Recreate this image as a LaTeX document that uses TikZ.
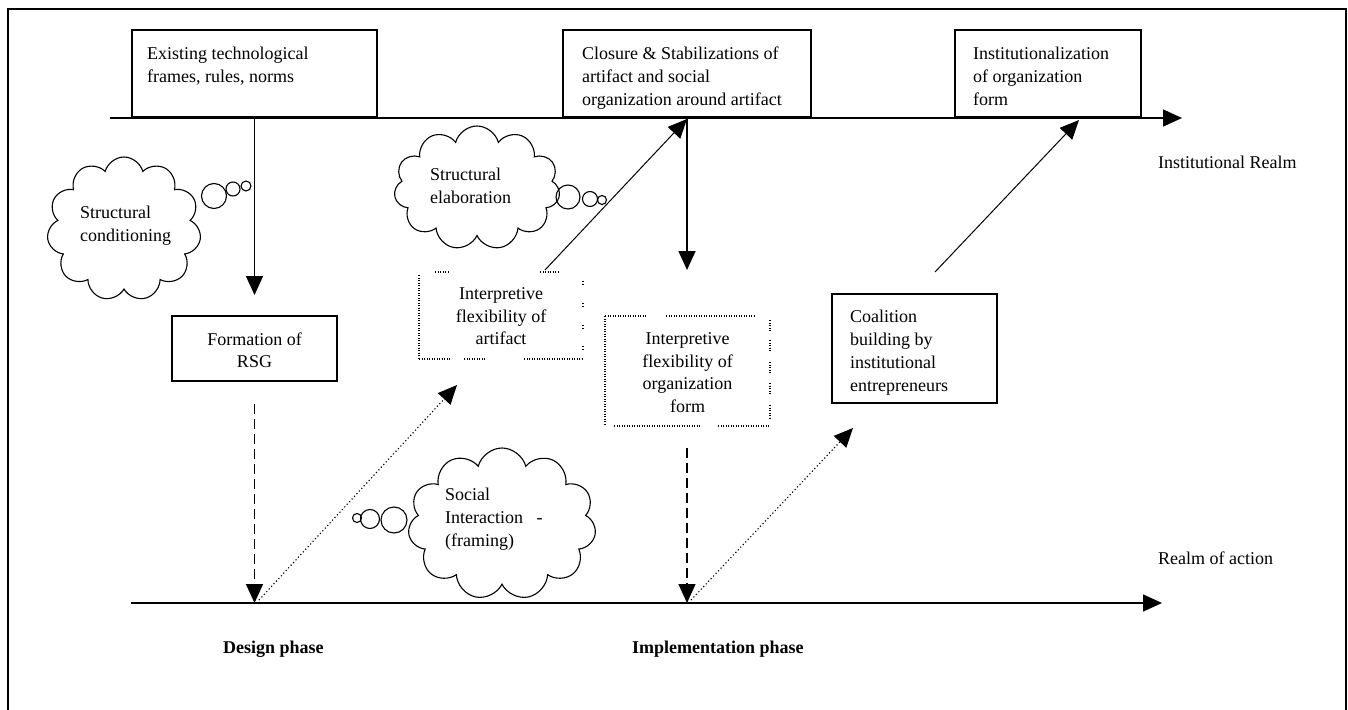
\documentclass[tikz,border=0pt]{standalone}
\usepackage{fontspec}
\setmainfont{Liberation Serif}
\usetikzlibrary{arrows.meta,shapes.symbols}
\begin{document}
\begin{tikzpicture}[x=1pt,y=-1pt,
  box/.style={draw, line width=1.4pt, inner sep=0},
  ghost/.style={inner sep=0},
  txt/.style={inner sep=0, font=\fontsize{18}{23}\selectfont, align=left, anchor=north west},
  ctxt/.style={inner sep=0, font=\fontsize{18}{22.5}\selectfont, align=center, anchor=north},
  tip/.style={-{Triangle[length=19pt,width=17pt]}},
  axis/.style={line width=1.5pt},
  conn/.style={line width=1.5pt},
  thin/.style={line width=1pt},
  dashline/.style={line width=1.3pt, dash pattern=on 10pt off 5pt},
  dotline/.style={line width=1.1pt, dash pattern=on 1.2pt off 2.4pt},
  dotborder/.style={line width=1.1pt, dash pattern=on 1pt off 1.5pt},
  cloudshape/.style={cloud, draw, cloud puffs=11, cloud ignores aspect, line width=1.1pt, inner sep=0},
  bubble/.style={circle, draw, line width=1.1pt, inner sep=0},
]
\useasboundingbox (0,0) rectangle (1348,709);
% frame
\draw[line width=1.3pt] (8,712) -- (8,9) -- (1346,9) -- (1346,712);

% axes
\coordinate (topL) at (110,118);
\coordinate (topR) at (1182,118);
\coordinate (botL) at (131,603);
\coordinate (botR) at (1162,603);

% boxes
\node[box, minimum width=245pt, minimum height=87pt] (b1) at (254.5,73.5) {};
\node[box, minimum width=248pt, minimum height=87pt] (b2) at (687,73.5) {};
\node[box, minimum width=186pt, minimum height=87pt] (b3) at (1048,73.5) {};
\node[box, minimum width=165pt, minimum height=65pt] (rsg) at (254.5,348.5) {};
\node[box, minimum width=165pt, minimum height=109pt] (coal) at (914.5,348.5) {};
\node[ghost, minimum width=164pt, minimum height=87pt] (if1) at (501,315.5) {};
\node[ghost, minimum width=165pt, minimum height=110pt] (if2) at (687.5,371) {};

\draw[axis,tip] (topL) -- (topR);
\draw[axis,tip] (botL) -- (botR);

% texts in boxes
\node[txt] (t1) at (147,46.5) {Existing technological\\frames, rules, norms};
\node[txt] (t2) at (582,46.5) {Closure \& Stabilizations of\\artifact and social\\organization around artifact};
\node[txt] (t3) at (973,46.5) {Institutionalization\\of organization\\form};
\node[ctxt] (trsg) at (254.5,332.5) {Formation of\\RSG};
\node[ctxt] (tif1) at (501,287.5) {Interpretive\\flexibility of\\artifact};
\node[ctxt] (tif2) at (687.5,332.5) {Interpretive\\flexibility of\\organization\\form};
\node[txt] (tcoal) at (850,309.5) {Coalition\\building by\\institutional\\entrepreneurs};

% dotted borders of the interpretive flexibility boxes
\draw[dotborder] (435,272) -- (450,272) (540,272) -- (558,272);
\draw[dotborder] (419,275) -- (419,359);
\draw[dotborder] (583,281) -- (583,285) (583,303) -- (583,307) (583,325) -- (583,329) (583,346) -- (583,350);
\draw[dotborder] (419,359) -- (450,359) (464,359) -- (485,359) (524,359) -- (583,359);
\draw[dotborder] (605,316) -- (646,316) (666,316) -- (756,316);
\draw[dotborder] (605,316) -- (605,426);
\draw[dotborder] (770,320) -- (770,332) (770,340) -- (770,352) (770,362) -- (770,373) (770,383) -- (770,395) (770,405) -- (770,420);
\draw[dotborder] (614,426) -- (700,426) (718,426) -- (770,426);

% clouds
\node[cloudshape, minimum width=154pt, minimum height=144pt] (c1) at (124,229) {};
\node[cloudshape, minimum width=166pt, minimum height=124pt] (c2) at (477,188) {};
\node[cloudshape, minimum width=188pt, minimum height=152pt] (c3) at (502,524) {};
\node[bubble, minimum size=25pt] (c1a) at (214,196) {};
\node[bubble, minimum size=14pt] (c1b) at (233,189) {};
\node[bubble, minimum size=10pt] (c1c) at (246,186) {};
\node[bubble, minimum size=24pt] (c2a) at (568,197) {};
\node[bubble, minimum size=15pt] (c2b) at (590,199) {};
\node[bubble, minimum size=9pt] (c2c) at (602,200) {};
\node[bubble, minimum size=26pt] (c3a) at (394,520) {};
\node[bubble, minimum size=19pt] (c3b) at (370,519) {};
\node[bubble, minimum size=9pt] (c3c) at (357,518) {};
\node[txt] (tc1) at (80,205.5) {Structural\\conditioning};
\node[txt] (tc2) at (430,167.5) {Structural\\elaboration};
\node[txt] (tc3) at (445,487.5) {Social\\Interaction\ \ \ -\\(framing)};

% labels
\node[txt] (linst) at (1158,155.5) {Institutional Realm};
\node[txt] (lact) at (1158,551.5) {Realm of action};
\node[txt, font=\fontsize{18}{23}\selectfont\bfseries] (ldes) at (223,640.5) {Design phase};
\node[txt, font=\fontsize{18}{23}\selectfont\bfseries] (limp) at (632,640.5) {Implementation phase};

% connectors
\coordinate (a1end) at (254.5,295);
\coordinate (rsgout) at (254.5,404);
\coordinate (d1) at (254.5,603);
\coordinate (d1s) at (259,600);
\coordinate (if1in) at (457,385);
\coordinate (if1out) at (545,270);
\coordinate (b2in) at (687,119);
\coordinate (a2end) at (687,270);
\coordinate (if2out) at (687,448);
\coordinate (d2) at (687,603);
\coordinate (d2s) at (691,600);
\coordinate (coalin) at (853,428);
\coordinate (coalout) at (935,272);
\coordinate (b3in) at (1079,120);

\draw[conn,tip] (b1.south) -- (a1end);
\draw[dashline,tip] (rsgout) -- (d1);
\draw[dotline,tip] (d1s) -- (if1in);
\draw[thin,tip] (if1out) -- (b2in);
\draw[conn,tip] (b2.south) -- (a2end);
\draw[dashline,tip] (if2out) -- (d2);
\draw[dotline,tip] (d2s) -- (coalin);
\draw[thin,tip] (coalout) -- (b3in);
\end{tikzpicture}
\end{document}
